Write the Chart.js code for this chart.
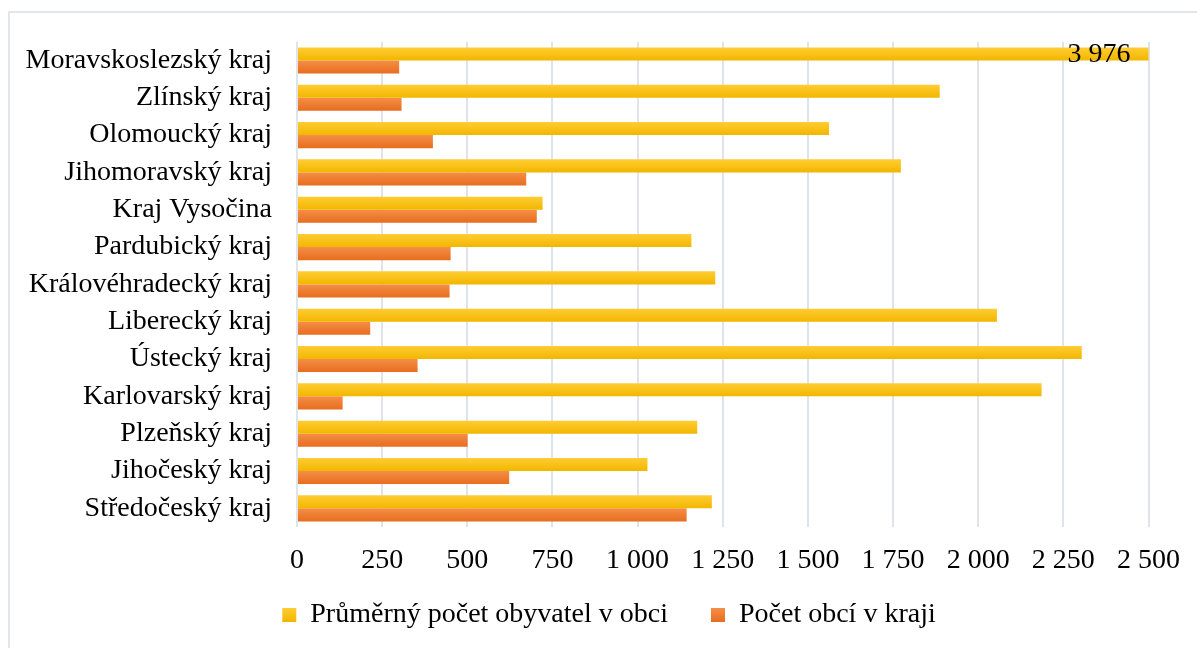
<!DOCTYPE html>
<html>
<head>
<meta charset="utf-8">
<script src="https://cdn.jsdelivr.net/npm/chart.js@4/dist/chart.umd.min.js"></script>
<style>
  html, body { margin: 0; padding: 0; background: #fff; }
  .frame { position: absolute; left: 8px; top: 11px; width: 1300px; height: 800px;
           border-left: 2px solid #e1e5ec; border-top: 2px solid #e1e5ec; }
  .wrap { position: absolute; left: 0; top: 0; width: 1197px; height: 648px; }
</style>
</head>
<body>
<div class="frame"></div>
<div class="wrap"><canvas id="chart"></canvas></div>
<script>
// kraje shora dolu
const regions = [
  'Moravskoslezský kraj', 'Zlínský kraj', 'Olomoucký kraj', 'Jihomoravský kraj',
  'Kraj Vysočina', 'Pardubický kraj', 'Královéhradecký kraj', 'Liberecký kraj',
  'Ústecký kraj', 'Karlovarský kraj', 'Plzeňský kraj', 'Jihočeský kraj', 'Středočeský kraj'
];
const avgPopulation = [3976, 1887, 1562, 1773, 721, 1158, 1228, 2055, 2304, 2186, 1175, 1029, 1218];
const municipalities = [300, 307, 399, 673, 704, 451, 448, 215, 354, 134, 501, 623, 1144];
const seriesNames = ['Průměrný počet obyvatel v obci', 'Počet obcí v kraji'];
const xTicksMax = 2500;
const xTicksStep = 250;

const SERIF = "'Liberation Serif', 'Times New Roman', serif";
const FS = 28;
const CAT = 0.7;
const LEG_PAD = 22;
const LEG_SHIFT = 29;
const COLORS = [['#ffcd33', '#f2b600'], ['#f58e48', '#e76d1e']];

const fmt = v => String(v).replace(/\B(?=(\d{3})+(?!\d))/g, ' ');

// gradient per bar (top lighter, bottom darker)
function barFill(top, bottom, slot) {
  return c => {
    const ch = c.chart, ys = ch.scales && ch.scales.y;
    if (!ys || c.dataIndex === undefined) return bottom;
    const p0 = ys.getPixelForValue(0), p1 = ys.getPixelForValue(1);
    const center = ys.getPixelForValue(c.dataIndex);
    if (!isFinite(p0) || !isFinite(p1) || !isFinite(center)) return bottom;
    const h = (p1 - p0) * CAT / 2;
    const y0 = center - h + slot * h;
    const g = ch.ctx.createLinearGradient(0, y0, 0, y0 + h);
    g.addColorStop(0, top);
    g.addColorStop(1, bottom);
    return g;
  };
}

const valueLabel = {
  id: 'valueLabel',
  afterUpdate(chart) {
    // posun legendy trochu doprava jako v originale
    if (chart.legend) { chart.legend.left += LEG_SHIFT; chart.legend.right += LEG_SHIFT; }
  },
  afterDatasetsDraw(chart) {
    const el = chart.getDatasetMeta(0).data[0];
    if (!el) return;
    const ctx = chart.ctx;
    ctx.save();
    ctx.font = FS + 'px ' + SERIF;
    ctx.fillStyle = '#000';
    ctx.textAlign = 'right';
    ctx.textBaseline = 'middle';
    ctx.fillText(fmt(avgPopulation[0]), chart.chartArea.right - 18, el.y + 1);
    ctx.restore();
  }
};

new Chart(document.getElementById('chart'), {
  type: 'bar',
  data: {
    labels: regions,
    datasets: [
      { label: seriesNames[0], data: avgPopulation,
        backgroundColor: barFill(COLORS[0][0], COLORS[0][1], 0), borderWidth: 0,
        categoryPercentage: CAT, barPercentage: 1.0 },
      { label: seriesNames[1], data: municipalities,
        backgroundColor: barFill(COLORS[1][0], COLORS[1][1], 1), borderWidth: 0,
        categoryPercentage: CAT, barPercentage: 1.0 }
    ]
  },
  options: {
    indexAxis: 'y',
    responsive: true,
    maintainAspectRatio: false,
    animation: false,
    layout: { padding: { left: 10, right: 47, top: 40, bottom: 9 } },
    scales: {
      x: {
        min: 0, max: xTicksMax,
        ticks: { stepSize: xTicksStep, color: '#000', padding: 17,
                 font: { family: SERIF, size: FS }, callback: v => fmt(v) },
        grid: { color: '#dfe3ea', lineWidth: 2, drawTicks: false },
        border: { display: false },
        // plot bottom ~527
        afterFit: s => { s.height = 648 - 9 - (FS + LEG_PAD + 10) - 527; }
      },
      y: {
        ticks: { color: '#000', padding: 25, font: { family: SERIF, size: FS } },
        grid: { display: false, drawTicks: false },
        border: { display: false },
        afterFit: s => { s.width = 287; }
      }
    },
    plugins: {
      legend: {
        position: 'bottom',
        labels: {
          color: '#000', boxWidth: 14, boxHeight: 14, padding: LEG_PAD,
          font: { family: SERIF, size: FS },
          generateLabels: chart => {
            return chart.data.datasets.map((d, i) => {
              const g = chart.ctx.createLinearGradient(0, 608, 0, 622);
              g.addColorStop(0, COLORS[i][0]);
              g.addColorStop(1, COLORS[i][1]);
              return {
                // mezera mezi polozkami legendy
                text: i === 0 ? d.label + '\u00a0\u00a0\u00a0' : d.label,
                fillStyle: g, strokeStyle: COLORS[i][1], lineWidth: 0,
                hidden: false, datasetIndex: i
              };
            });
          }
        }
      },
      tooltip: { enabled: false }
    }
  },
  plugins: [valueLabel]
});
</script>
</body>
</html>
